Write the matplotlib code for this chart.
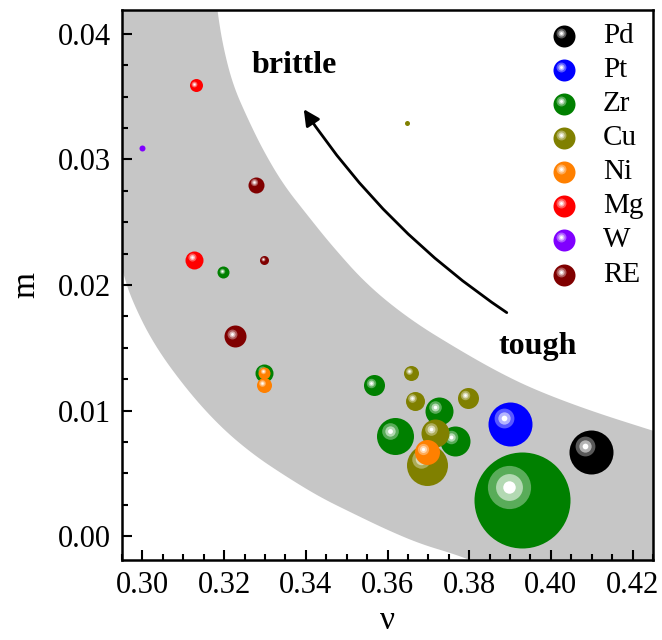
import numpy as np
import matplotlib
matplotlib.use("Agg")
import matplotlib.pyplot as plt
from matplotlib.transforms import offset_copy
from matplotlib.patches import Polygon, FancyArrowPatch
from matplotlib.colors import to_rgb
from matplotlib.ticker import MultipleLocator, FormatStrFormatter

plt.rcParams['font.family'] = ['Liberation Serif', 'DejaVu Serif']

# element -> colour
elements = ['Pd', 'Pt', 'Zr', 'Cu', 'Ni', 'Mg', 'W', 'RE']
colors = ['#000000', '#0000ff', '#008000', '#808000', '#ff8000', '#ff0000', '#8000ff', '#800000']

# data points (Poisson ratio, m, bubble diameter in px)
pd_nu, pd_m, pd_d = [0.4097], [0.0067], [44]
pt_nu, pt_m, pt_d = [0.3899], [0.0089], [44]
zr_nu = [0.3929, 0.3198, 0.3298, 0.3567, 0.3726, 0.3618, 0.3765]
zr_m = [0.0029, 0.0210, 0.0130, 0.0120, 0.0100, 0.0080, 0.0076]
zr_d = [96, 12, 18, 21, 28, 37, 30]
cu_nu = [0.3657, 0.3667, 0.3797, 0.3716, 0.3696, 0.3648]
cu_m = [0.0130, 0.0108, 0.0110, 0.0082, 0.0057, 0.0329]
cu_d = [15, 19, 21, 28, 41, 5]
ni_nu = [0.3298, 0.3298, 0.3696]
ni_m = [0.0130, 0.0120, 0.0067]
ni_d = [12, 15, 25]
mg_nu, mg_m, mg_d = [0.3130, 0.3127], [0.0359, 0.0220], [13, 18]
w_nu, w_m, w_d = [0.3000], [0.0309], [6]
re_nu = [0.3279, 0.3298, 0.3227]
re_m = [0.0280, 0.0220, 0.0159]
re_d = [16, 9, 22]

# grey band boundaries
band_up_nu = [0.3178, 0.3183, 0.3198, 0.3222, 0.3257, 0.3296, 0.3345, 0.3403, 0.3462,
              0.3550, 0.3657, 0.3777, 0.3875, 0.3965, 0.4095, 0.4249, 0.4300]
band_up_m = [0.0440, 0.0419, 0.0389, 0.0359, 0.0333, 0.0307, 0.0280, 0.0256, 0.0232,
             0.0200, 0.0172, 0.0148, 0.0130, 0.0116, 0.0100, 0.0084, 0.0079]
band_lo_nu = [0.2930, 0.2949, 0.2971, 0.3027, 0.3110, 0.3191, 0.3271, 0.3354, 0.3435,
              0.3516, 0.3599, 0.3679, 0.3760, 0.3802, 0.3860]
band_lo_m = [0.0236, 0.0214, 0.0190, 0.0153, 0.0116, 0.0087, 0.0065, 0.0047, 0.0031,
             0.0018, 0.0005, -0.0006, -0.0014, -0.0019, -0.0026]


def smooth(xs, ys, n=3):
    # corner cutting so the band edge is not jagged
    p = np.column_stack([xs, ys])
    for _ in range(n):
        q = [p[0]]
        for a, b in zip(p[:-1], p[1:]):
            q.append(0.75 * a + 0.25 * b)
            q.append(0.25 * a + 0.75 * b)
        q.append(p[-1])
        p = np.array(q)
    return p


def blend(c, f):
    c = np.array(to_rgb(c))
    return tuple(c + (1 - c) * f)


def draw_sphere(ax, x, y, d, color, transform, z):
    dpt = d * 0.72
    ax.scatter([x], [y], s=dpt ** 2, color=color, linewidths=0,
               transform=transform, zorder=z, clip_on=False)
    if d < 8:
        return
    tr = offset_copy(transform, fig=ax.figure, x=-0.27 * dpt / 2,
                     y=0.27 * dpt / 2, units='points')
    for frac, mix in [(0.45, 0.35), (0.28, 0.7), (0.13, 1.0)]:
        ax.scatter([x], [y], s=(frac * dpt) ** 2, color=blend(color, mix),
                   linewidths=0, transform=tr, zorder=z, clip_on=False)


fig = plt.figure(figsize=(6.62, 6.40), dpi=100)
ax = fig.add_axes([0.1843, 0.125, 0.8021, 0.8594])

up = smooth(band_up_nu, band_up_m)
lo = smooth(band_lo_nu, band_lo_m)
poly = np.vstack([[(0.28, 0.045)], up, [(0.44, 0.0079), (0.44, -0.006)],
                  lo[::-1], [(0.28, 0.03)]])
ax.add_patch(Polygon(poly, closed=True, facecolor='#c6c6c6', edgecolor='none', zorder=0))

series = [
    ('Zr', zr_nu, zr_m, zr_d),
    ('Pd', pd_nu, pd_m, pd_d),
    ('Pt', pt_nu, pt_m, pt_d),
    ('Cu', cu_nu, cu_m, cu_d),
    ('Mg', mg_nu, mg_m, mg_d),
    ('W', w_nu, w_m, w_d),
    ('RE', re_nu, re_m, re_d),
    ('Ni', ni_nu, ni_m, ni_d),
]
z = 2
for name, xs, ys, ds in series:
    c = colors[elements.index(name)]
    for x, y, d in zip(xs, ys, ds):
        draw_sphere(ax, x, y, d, c, ax.transData, z)
        z += 0.01

# legend drawn by hand (sphere markers)
for i, (name, c) in enumerate(zip(elements, colors)):
    yy = 0.953 - i * 0.062
    draw_sphere(ax, 0.8324, yy, 22, c, ax.transAxes, 5)
    ax.text(0.906, yy, name, transform=ax.transAxes, fontsize=21,
            va='center', ha='left')

arrow = FancyArrowPatch((0.3892, 0.0178), (0.3395, 0.0340),
                        connectionstyle='arc3,rad=-0.1', arrowstyle='-|>',
                        mutation_scale=24, lw=2.0, color='black',
                        shrinkA=0, shrinkB=0, zorder=4)
ax.add_patch(arrow)
ax.text(0.3371, 0.0375, 'brittle', fontsize=23, fontweight='bold', ha='center', va='center')
ax.text(0.3967, 0.0151, 'tough', fontsize=23, fontweight='bold', ha='center', va='center')

ax.set_xlim(0.295, 0.425)
ax.set_ylim(-0.0019, 0.0419)
ax.xaxis.set_major_locator(MultipleLocator(0.02))
ax.xaxis.set_minor_locator(MultipleLocator(0.005))
ax.yaxis.set_major_locator(MultipleLocator(0.01))
ax.yaxis.set_minor_locator(MultipleLocator(0.0025))
ax.xaxis.set_major_formatter(FormatStrFormatter('%.2f'))
ax.yaxis.set_major_formatter(FormatStrFormatter('%.2f'))
ax.tick_params(which='both', direction='in', width=1.5, labelsize=22, pad=8)
ax.tick_params(which='major', length=7)
ax.tick_params(which='minor', length=4.5)
for sp in ax.spines.values():
    sp.set_linewidth(1.8)
ax.set_xlabel('ν', fontsize=24, labelpad=4)
ax.set_ylabel('m', fontsize=24, labelpad=12)

fig.savefig('out.png', dpi=100)
